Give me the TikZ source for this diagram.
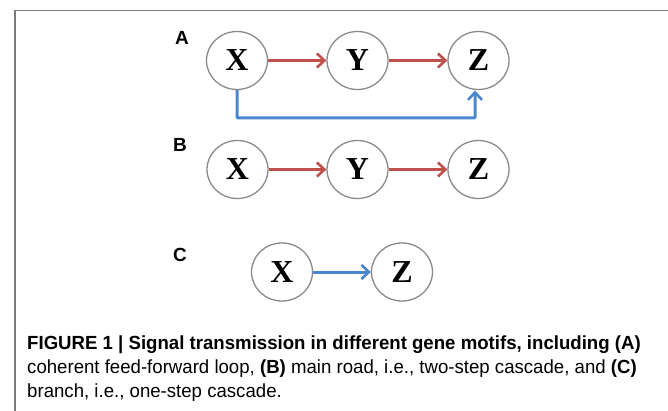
\documentclass[tikz,border=0pt]{standalone}
\usepackage{fontspec}
\setmainfont{Liberation Serif}
\newfontfamily\capfont[FakeStretch=0.98]{Liberation Sans}
\newfontfamily\labfont{Liberation Sans}
\usetikzlibrary{arrows.meta,shapes.geometric}
\definecolor{ringgray}{HTML}{8A8A8A}
\definecolor{framegray}{HTML}{7A7A7A}
\definecolor{mainred}{HTML}{C0504D}
\definecolor{branchblue}{HTML}{4A86CF}
\tikzset{
  gene/.style={ellipse, draw=ringgray, line width=1.3pt, minimum width=61pt, minimum height=58pt, inner sep=0pt, font=\fontsize{32}{32}\selectfont\bfseries},
  panel/.style={font=\labfont\fontsize{19}{19}\selectfont\bfseries, inner sep=0pt},
  redarrow/.style={draw=mainred, line width=2.8pt, -{Straight Barb[length=7.5pt,width=14pt,line width=2.6pt]}},
  bluearrow/.style={draw=branchblue, line width=3pt, -{Straight Barb[length=7.5pt,width=14pt,line width=2.6pt]}},
  caption/.style={anchor=base west, inner sep=0pt, font=\capfont\fontsize{19}{19}\selectfont}
}
\begin{document}
\begin{tikzpicture}[x=1pt,y=-1pt]
\useasboundingbox (0,0) rectangle (668,411);
\fill[white] (0,0) rectangle (668,411);
% frame
\draw[framegray, line width=1.5pt] (15,411) -- (15,10.5) -- (668,10.5);
% panel A: coherent feed-forward loop
\node[panel] (la) at (182,38) {A};
\node[gene] (ax) at (237,60.5) {X};
\node[gene] (ay) at (357.5,60.5) {Y};
\node[gene] (az) at (478.5,60.5) {Z};
\draw[redarrow] (ax) -- (ay);
\draw[redarrow] (ay) -- (az);
\coordinate (acorner1) at (237,118);
\coordinate (acorner2) at (475,118);
\draw[bluearrow, rounded corners=1pt] (ax.south) -- (acorner1) -- (acorner2) -- (475,90.5);
% panel B: two-step cascade
\node[panel] (lb) at (180,145) {B};
\node[gene] (bx) at (237.5,169.5) {X};
\node[gene] (by) at (357.5,169.5) {Y};
\node[gene] (bz) at (478.5,169.5) {Z};
\draw[redarrow] (bx) -- (by);
\draw[redarrow] (by) -- (bz);
% panel C: one-step cascade
\node[panel] (lc) at (180,255) {C};
\node[gene] (cx) at (282,272) {X};
\node[gene] (cz) at (402,272) {Z};
\draw[bluearrow] (cx) -- (cz);
% caption
\node[caption] (cap1) at (27,349) {\bfseries FIGURE 1 | Signal transmission in different gene motifs, including (A)};
\node[caption] (cap2) at (27,373) {coherent feed-forward loop, \textbf{(B)} main road, i.e., two-step cascade, and \textbf{(C)}};
\node[caption] (cap3) at (27,397) {branch, i.e., one-step cascade.};
\end{tikzpicture}
\end{document}
